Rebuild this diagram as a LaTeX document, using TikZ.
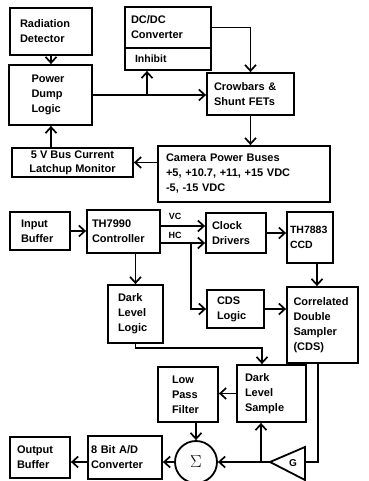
\documentclass[tikz,border=0pt]{standalone}
\usepackage{fontspec}
\setmainfont{Liberation Sans}
\usetikzlibrary{arrows.meta,calc}
\begin{document}
\begin{tikzpicture}[x=1pt,y=-1pt,
  box/.style={draw, line width=1.8pt, inner sep=0pt, align=left, font=\bfseries\fontsize{11}{15}\selectfont},
  lab/.style={inner sep=0pt, font=\bfseries\fontsize{9}{9}\selectfont},
  arr/.style={line width=1.7pt, -{Straight Barb[length=6pt,width=11pt,line width=1.7pt]}},
  ln/.style={line width=1.7pt}]
\useasboundingbox (0,0) rectangle (368,481);

% upper section
\node[box, minimum width=82pt, minimum height=47pt, text width=62pt] (rad) at (51,31.5) {Radiation\\Detector};
\node[box, minimum width=86pt, minimum height=41pt, text width=74pt] (dcdc) at (168,27.5) {DC/DC\\Converter};
\node[box, minimum width=86pt, minimum height=22pt, text width=66pt, font=\bfseries\fontsize{10.5}{12}\selectfont] (inh) at (168,59) {Inhibit};
\node[box, minimum width=83pt, minimum height=60pt, text width=38pt] (pdl) at (50.5,95) {Power\\Dump\\Logic};
\node[box, minimum width=87pt, minimum height=42pt, text width=73pt] (crow) at (250.5,94) {Crowbars \&\\Shunt FETs};
\node[box, minimum width=172pt, minimum height=56pt, text width=156pt] (cam) at (244,174) {Camera Power Buses\\+5, +10.7, +11, +15 VDC\\-5, -15 VDC};
\node[box, minimum width=121pt, minimum height=29pt, align=center, font=\bfseries\fontsize{11}{14}\selectfont] (mon) at (72.5,162.5) {5 V Bus Current\\Latchup Monitor};

% lower section
\node[box, minimum width=60pt, minimum height=38pt, text width=38pt] (inb) at (40,231) {Input\\Buffer};
\node[box, minimum width=73pt, minimum height=43pt, text width=63pt] (ctrl) at (123.5,231.5) {TH7990\\Controller};
\node[box, minimum width=60pt, minimum height=40pt, text width=48pt] (clk) at (236,233) {Clock\\Drivers};
\node[box, minimum width=46pt, minimum height=51pt, text width=40pt, font=\bfseries\fontsize{10.5}{15}\selectfont] (ccd) at (310,237.5) {TH7883\\CCD};
\node[box, minimum width=57pt, minimum height=38pt, text width=37pt] (cdsl) at (235.5,309) {CDS\\Logic};
\node[box, minimum width=71pt, minimum height=76pt, text width=58pt] (cds) at (322.5,325) {Correlated\\Double\\Sampler\\(CDS)};
\node[box, minimum width=55pt, minimum height=58pt, text width=35pt] (dll) at (135.5,314) {Dark\\Level\\Logic};
\node[box, minimum width=69pt, minimum height=57pt, text width=53pt] (dls) at (271.5,393.5) {Dark\\Level\\Sample};
\node[box, minimum width=60pt, minimum height=55pt, text width=32pt] (lpf) at (188,394.5) {Low\\Pass\\Filter};
\node[draw, circle, line width=1.8pt, minimum size=42pt, inner sep=0pt, font=\fontsize{17}{17}\selectfont] (sig) at (196,462) {$\Sigma$};
\node[box, minimum width=74pt, minimum height=43pt, text width=68pt] (adc) at (125,457.5) {8 Bit A/D\\Converter};
\node[box, minimum width=60pt, minimum height=41pt, text width=46pt] (outb) at (40,457.5) {Output\\Buffer};

% amplifier G
\coordinate (ampout) at (270,462);
\coordinate (ampin) at (305,462);
\draw[line width=1.8pt, line join=miter] (ampout) -- (305,447) -- (305,480) -- cycle;
\node[lab, font=\bfseries\fontsize{10}{10}\selectfont] (g) at (293,463) {G};

% labels
\node[lab] (vc) at (175,216) {VC};
\node[lab] (hc) at (175,235) {HC};

% upper connectors
\draw[arr] (rad.south) -- (rad.south |- pdl.north);
\draw[arr] (pdl.east) -- (pdl.east -| crow.west);
\coordinate (j1) at (147,95);
\draw[arr] (j1) -- (j1 |- inh.south);
\draw[arr] (dcdc.east) -| (crow.north);
\draw[arr] (crow.south) -- (crow.south |- cam.north);
\draw[arr] (mon.east -| cam.west) -- (mon.east);
\draw[arr] (rad.south |- mon.north) -- (rad.south |- pdl.south);

% lower connectors
\draw[arr] (inb.east) -- (inb.east -| ctrl.west);
\draw[arr] ($(ctrl.east)+(0,-5.5)$) -- ($(ctrl.east -| clk.west)+(0,-5.5)$);
\draw[arr] ($(ctrl.east)+(0,11.5)$) -- ($(ctrl.east -| clk.west)+(0,11.5)$);
\coordinate (hcj) at (191,243);
\draw[arr] (hcj) |- (cdsl.west);
\draw[arr] (clk.east) -- (clk.east -| ccd.west);
\draw[arr] ([xshift=7pt]ccd.south) -- ([xshift=7pt]ccd.south |- cds.north);
\draw[arr] (cdsl.east) -- (cdsl.east -| cds.west);
\draw[arr] (dll.north |- ctrl.south) -- (dll.north);
\coordinate (k) at (262,348);
\draw[arr] (dll.south) |- (k) -- (k |- dls.north);
\draw[arr] (dls.west) -- (dls.west -| lpf.east);
\draw[arr] (lpf.south -| sig.north) -- (sig.north);
\draw[ln] ([xshift=-4.5pt]cds.south) |- (ampin);
\draw[arr] (ampout) -- (sig.east);
\coordinate (gj) at (261,462);
\draw[arr] (gj) -- (gj |- dls.south);
\draw[arr] (sig.west) -- (sig.west -| adc.east);
\draw[arr] (adc.west |- sig.west) -- (outb.east |- sig.west);
\end{tikzpicture}
\end{document}
